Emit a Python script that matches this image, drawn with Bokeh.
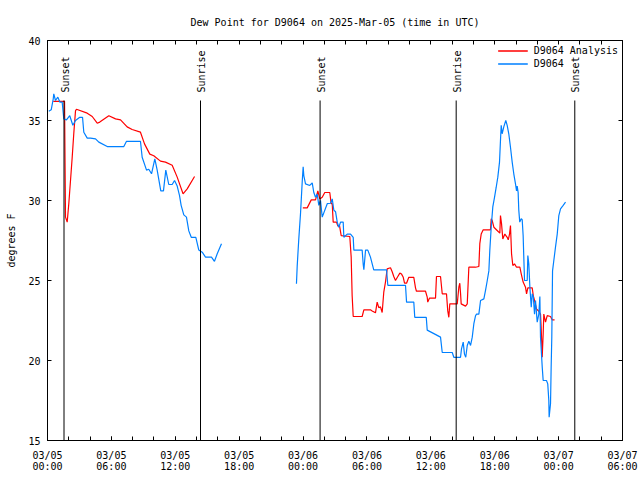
import numpy as np
import pandas as pd
from bokeh.plotting import figure
from bokeh.models import (Range1d, FixedTicker, DatetimeTickFormatter, DatetimeAxis,
                          LinearAxis, ColumnDataSource)
from bokeh.core.properties import value
from bokeh.embed import file_html
from bokeh.resources import INLINE

# ---------------- data (hours after 2025-03-05 00:00 UTC, degrees F) ----------------
BASE = pd.Timestamp("2025-03-05 00:00")

obs1_h = [0.12, 0.35, 0.54, 0.59, 0.75, 0.97, 1.16, 1.38, 1.53, 1.78, 2.09, 2.38, 2.63, 3.03,
          3.29, 3.41, 3.73, 4.04, 4.51, 4.82, 5.61, 7.17, 7.42, 8.73, 8.89, 9.30, 9.51, 9.77,
          10.08, 10.30, 10.64, 10.89, 11.11, 11.39, 11.71, 11.93, 12.18, 12.40, 12.55, 12.80,
          13.05, 13.27, 13.50, 13.93, 14.21, 14.53, 14.84, 15.40, 15.68, 15.94, 16.34]
obs1_v = [35.58, 35.67, 36.36, 36.67, 36.25, 36.46, 36.15, 36.15, 35.1, 35.04, 35.3, 34.7, 35.0, 35.2,
          35.2, 34.27, 33.9, 33.9, 33.85, 33.65, 33.37, 33.37, 33.7, 33.7, 32.7, 31.9, 31.95, 31.67,
          32.6, 31.9, 30.6, 30.6, 31.9, 31.0, 31.0, 31.25, 30.9, 30.3, 29.7, 29.1,
          28.96, 28.1, 27.7, 27.7, 26.9, 26.77, 26.46, 26.46, 26.2, 26.67, 27.3]

obs2_h = [23.38, 23.45, 23.60, 23.76, 23.92, 24.01, 24.07, 24.23, 24.63, 24.86, 25.01, 25.17,
          25.33, 25.48, 25.64, 25.80, 26.27, 26.58, 26.74, 26.89, 27.05, 27.21, 27.36, 27.52,
          27.77, 27.83, 28.15, 28.46, 28.71, 28.77, 29.55, 29.65, 29.71, 29.87, 30.08, 30.33,
          30.64, 31.84, 31.96, 33.62, 33.72, 34.40, 34.49, 35.57, 35.66, 36.91, 37.07, 38.01,
          38.16, 38.79, 38.88, 39.04, 39.16, 39.28, 39.42, 39.57, 39.73, 39.89, 40.04, 40.20,
          40.29, 40.51, 40.67, 40.98, 41.14, 41.30, 41.45, 41.54, 41.67, 41.82, 41.98, 42.14,
          42.29, 42.45, 42.54, 42.61, 42.70, 42.85, 43.04, 43.17, 43.32, 43.48, 43.64, 43.79,
          43.95, 44.05, 44.11, 44.20, 44.26, 44.35, 44.49, 44.58, 44.67, 44.73, 44.80, 45.05,
          45.11, 45.20, 45.30, 45.43, 45.52, 45.62, 45.74, 45.83, 45.99, 46.14, 46.24, 46.30,
          46.46, 46.55, 46.86, 46.98, 47.08, 47.11, 47.24, 47.30, 47.36, 47.43, 47.55, 47.71,
          47.87, 48.02, 48.18, 48.43, 48.65]
obs2_v = [24.8, 25.9, 27.6, 29.17, 31.15, 32.1, 31.56, 31.04, 30.94, 31.1, 30.5, 30.2,
          30.4, 29.7, 30.0, 28.96, 29.8, 29.83, 30.1, 29.4, 29.3, 28.65, 28.33, 28.65,
          28.65, 27.7, 27.9, 27.9, 27.7, 26.9, 26.9, 26.0, 25.67, 26.9, 26.9, 26.46,
          25.67, 25.67, 24.7, 24.7, 23.65, 23.65, 22.7, 22.7, 21.9, 21.46, 20.5, 20.5,
          20.2, 20.2, 20.73, 21.15, 20.4, 20.2, 20.94, 21.2, 20.94, 21.46, 22.3, 22.8,
          22.9, 22.9, 23.75, 23.85, 24.4, 25.0, 25.6, 26.9, 28.33, 29.6, 30.2, 30.83,
          31.46, 32.4, 33.75, 34.7, 34.17, 34.6, 35.0, 34.7, 34.17, 33.33, 32.4, 31.67,
          31.04, 30.6, 30.9, 30.5, 29.4, 28.65, 28.86, 28.8, 27.8, 26.46, 25.0, 25.0,
          26.56, 26.04, 24.6, 23.33, 24.17, 24.0, 22.9, 23.75, 22.4, 22.9, 24.0, 21.46,
          19.6, 18.75, 18.75, 18.54, 17.5, 16.46, 17.3, 19.6, 21.46, 25.6, 26.25, 27.1,
          27.9, 29.06, 29.48, 29.7, 29.9]

ana1_h = [0.54, 1.60, 1.69, 1.85, 2.00, 2.16, 2.32, 2.47, 2.63, 2.72, 3.73, 4.20, 4.67, 4.91,
          5.76, 6.39, 6.86, 7.48, 7.95, 8.73, 9.11, 9.61, 9.98, 10.61, 11.08, 11.71, 12.18,
          12.73, 13.12, 13.81]
ana1_v = [36.2, 36.2, 28.96, 28.65, 29.8, 31.25, 32.7, 34.2, 35.6, 35.7, 35.46, 35.25, 34.83, 34.9,
          35.3, 35.1, 35.04, 34.6, 34.44, 34.27, 33.54, 32.9, 32.8, 32.46, 32.4, 32.2, 31.46,
          30.42, 30.73, 31.5]

ana2_h = [23.98, 24.39, 24.77, 25.17, 25.39, 25.57, 25.80, 26.04, 26.51, 26.64, 26.74, 26.83,
          27.14, 27.27, 27.42, 27.58, 28.39, 28.52, 28.61, 28.71, 29.55, 29.71, 30.33, 30.49,
          30.80, 30.96, 31.11, 31.27, 31.43, 31.58, 31.74, 31.90, 32.21, 32.37, 32.52, 32.68,
          32.90, 33.09, 33.25, 33.41, 33.53, 33.72, 33.93, 34.40, 34.56, 34.65, 35.50, 35.66,
          35.71, 35.88, 36.44, 36.53, 36.91, 37.07, 37.47, 37.59, 37.69, 37.78, 38.48, 38.63,
          38.72, 38.79, 38.85, 39.26, 39.42, 39.57, 40.20, 40.51, 40.60, 40.73, 40.92, 41.60,
          41.67, 41.76, 41.92, 42.23, 42.48, 42.54, 42.64, 42.76, 42.95, 43.17, 43.27, 43.39,
          43.48, 43.58, 43.70, 43.86, 44.05, 44.36, 44.49, 44.67, 44.89, 44.99, 45.11, 45.52,
          45.62, 45.74, 45.92, 46.14, 46.30, 46.36, 46.46, 46.55, 46.61, 46.77, 46.93, 47.24,
          47.40, 47.62]
ana2_v = [29.54, 29.54, 30.04, 30.04, 30.6, 30.1, 30.2, 30.5, 30.5, 29.8, 29.8, 28.65,
          28.65, 28.4, 28.45, 27.8, 27.75, 26.46, 24.06, 22.75, 22.75, 23.17, 23.17, 23.1,
          22.98, 23.65, 23.3, 23.35, 23.0, 24.27, 24.9, 25.73, 25.8, 25.55, 25.25, 25.0,
          25.25, 25.46, 25.4, 25.2, 24.83, 24.83, 25.2, 25.2, 24.54, 24.33, 24.33, 23.96,
          23.65, 23.9, 23.9, 25.25, 25.25, 24.17, 24.17, 23.1, 22.7, 23.54, 23.54, 24.58,
          24.83, 24.2, 23.54, 23.4, 23.54, 25.83, 25.83, 25.875, 27.3, 27.9, 28.17, 28.17,
          28.86, 28.75, 28.33, 28.125, 27.96, 29.06, 28.54, 27.6, 27.9, 27.7, 27.54, 27.9,
          28.44, 26.67, 25.94, 26.04, 25.83, 25.83, 25.42, 24.9, 24.58, 24.17, 24.54, 24.54,
          24.06, 23.75, 23.23, 23.08, 22.9, 22.08, 20.2, 21.67, 22.9, 22.4, 22.8, 22.75,
          22.54, 22.54]

sun_h = [1.55, 14.37, 25.60, 38.38, 49.52]
sun_labels = ["Sunset", "Sunrise", "Sunset", "Sunrise", "Sunset"]

y_ticks = [15, 20, 25, 30, 35, 40]
major_tick_hours = list(range(0, 55, 6))
minor_tick_hours = list(range(0, 55, 2))

# ---------------- styling constants ----------------
FONT = "DejaVu Sans Mono"
FS = "10px"
RED = "#ff0000"
BLUE = "#0080ff"
LINE_TOP = 36.25
LABEL_Y = 36.75


def to_time(hours):
    return BASE + pd.to_timedelta(np.asarray(hours, dtype=float), unit="h")


def to_ms(hours):
    return [(BASE + pd.Timedelta(hours=h)).value / 1e6 for h in hours]


p = figure(width=640, height=480, x_axis_type="datetime",
           x_range=Range1d(start=to_time([0])[0], end=to_time([54])[0]),
           y_range=Range1d(15, 40),
           output_backend="svg", toolbar_location=None,
           min_border_left=47, min_border_right=18, min_border_top=40, min_border_bottom=40)

p.title.text = "Dew Point for D9064 on 2025-Mar-05 (time in UTC)"
p.title.align = "center"
p.title.text_font = FONT
p.title.text_font_size = FS
p.title.text_font_style = "normal"
p.title.text_color = "black"
p.title.standoff = 26

p.grid.visible = False
p.outline_line_color = "black"
p.outline_line_width = 1
p.background_fill_color = "white"
p.border_fill_color = "white"

xticker = FixedTicker(ticks=to_ms(major_tick_hours), minor_ticks=to_ms(minor_tick_hours))
fmt_str = "%m/%d\n%H:%M"
xfmt = DatetimeTickFormatter(microseconds=fmt_str, milliseconds=fmt_str, seconds=fmt_str,
                             minsec=fmt_str, minutes=fmt_str, hourmin=fmt_str, hours=fmt_str,
                             days=fmt_str, months=fmt_str, years=fmt_str)
yticker = FixedTicker(ticks=y_ticks, minor_ticks=[])
# mirror axes: ticks only (as minor ticks, so no labels are drawn)
xticker_top = FixedTicker(ticks=[], minor_ticks=to_ms(minor_tick_hours))
yticker_right = FixedTicker(ticks=[], minor_ticks=y_ticks)


def style_axis(ax):
    ax.major_tick_in = 4
    ax.major_tick_out = 0
    ax.minor_tick_in = 4
    ax.minor_tick_out = 0
    ax.axis_line_color = "black"
    ax.major_tick_line_color = "black"
    ax.minor_tick_line_color = "black"
    ax.major_label_text_font = FONT
    ax.major_label_text_color = "black"
    ax.major_label_text_font_size = FS


xa = p.xaxis[0]
xa.ticker = xticker
xa.formatter = xfmt
style_axis(xa)
xa.major_label_standoff = 9
xa.major_label_text_line_height = 1.0

ya = p.yaxis[0]
ya.ticker = yticker
style_axis(ya)
ya.major_label_standoff = 7
ya.axis_label = "degrees F"
ya.axis_label_text_font = FONT
ya.axis_label_text_font_size = FS
ya.axis_label_text_font_style = "normal"
ya.axis_label_text_color = "black"
ya.axis_label_standoff = 8

top = DatetimeAxis(ticker=xticker_top, formatter=xfmt)
style_axis(top)
top.major_label_standoff = 0
p.add_layout(top, "above")

right = LinearAxis(ticker=yticker_right)
style_axis(right)
right.major_label_standoff = 0
p.add_layout(right, "right")

# ---------------- data lines ----------------
for hh, vv in [(ana1_h, ana1_v), (ana2_h, ana2_v)]:
    p.line(x=to_time(hh), y=vv, color=RED, line_width=1.2, legend_label="D9064 Analysis")
for hh, vv in [(obs1_h, obs1_v), (obs2_h, obs2_v)]:
    p.line(x=to_time(hh), y=vv, color=BLUE, line_width=1.2, legend_label="D9064")

# ---------------- sunrise / sunset markers ----------------
sun_src = ColumnDataSource(dict(t=to_time(sun_h), lab=sun_labels,
                                y0=[15] * len(sun_h), y1=[LINE_TOP] * len(sun_h),
                                ly=[LABEL_Y] * len(sun_h)))
p.segment(x0="t", y0="y0", x1="t", y1="y1", source=sun_src, color="black", line_width=1)
p.text(x="t", y="ly", text="lab", source=sun_src, angle=np.pi / 2,
       text_align="left", text_baseline="middle", text_font=value(FONT),
       text_font_size=FS, text_color="black", x_offset=1)

# ---------------- legend ----------------
lg = p.legend[0]
lg.location = "top_right"
lg.border_line_color = None
lg.background_fill_alpha = 0
lg.label_text_font = FONT
lg.label_text_font_size = FS
lg.label_text_color = "black"
lg.glyph_width = 30
lg.glyph_height = 13
lg.label_height = 13
lg.spacing = 0
lg.padding = 3
lg.margin = 4
lg.label_standoff = 6

open("out.html", "w").write(file_html(p, INLINE))
